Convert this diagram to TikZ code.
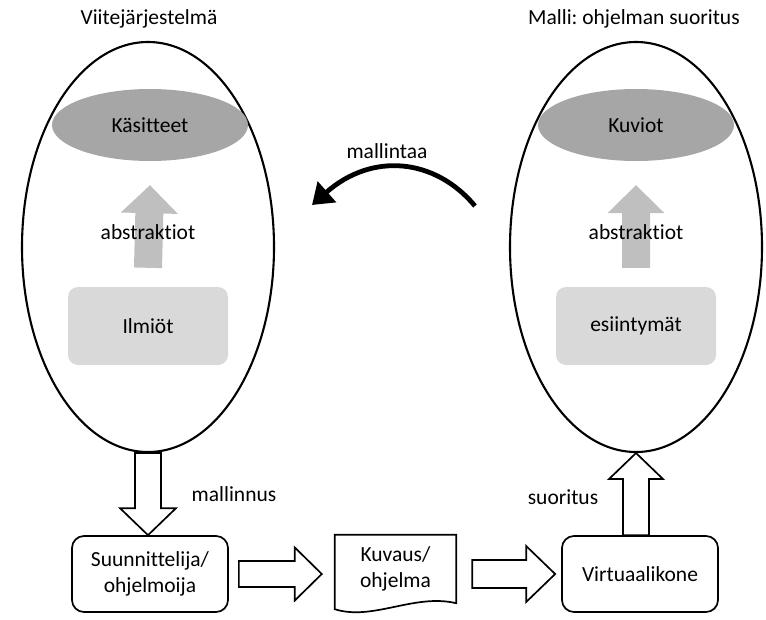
\documentclass[tikz,border=0pt]{standalone}
\usepackage{fontspec}
\setmainfont{Carlito}[Ligatures=NoCommon]
\usetikzlibrary{calc,arrows.meta,shapes.geometric}
\frenchspacing

\definecolor{conceptgray}{RGB}{166,166,166}
\definecolor{liftgray}{RGB}{191,191,191}
\definecolor{boxgray}{RGB}{217,217,217}

\begin{document}
\begin{tikzpicture}[x=1pt,y=-1pt,
  font=\fontsize{21.5}{26}\selectfont,
  world/.style={draw, ellipse, line width=2.1pt, minimum width=252, minimum height=410, inner sep=0pt},
  concept/.style={ellipse, fill=conceptgray, minimum width=196, minimum height=72, inner sep=0pt},
  instbox/.style={rectangle, rounded corners=10pt, fill=boxgray, minimum width=160, minimum height=78},
  actor/.style={draw, rectangle, rounded corners=12pt, line width=1.7pt, minimum width=156, minimum height=76, align=center},
  docbody/.style={rectangle, minimum width=121, minimum height=68, align=center},
  label/.style={inner sep=0pt},
  % block arrow between two points: #1 shaft half width, #2 head half width, #3 head length
  blockarrow/.style n args={3}{to path={
    let \p1=(\tikztostart), \p2=(\tikztotarget),
        \n1={veclen(\x2-\x1,\y2-\y1)},
        \n2={(\x2-\x1)/\n1}, \n3={(\y2-\y1)/\n1},
        \n4={\n1-#3}
    in ({\x1-(#1)*\n3},{\y1+(#1)*\n2})
    -- ({\x1+\n4*\n2-(#1)*\n3},{\y1+\n4*\n3+(#1)*\n2})
    -- ({\x1+\n4*\n2-(#2)*\n3},{\y1+\n4*\n3+(#2)*\n2})
    -- (\p2)
    -- ({\x1+\n4*\n2+(#2)*\n3},{\y1+\n4*\n3-(#2)*\n2})
    -- ({\x1+\n4*\n2+(#1)*\n3},{\y1+\n4*\n3-(#1)*\n2})
    -- ({\x1+(#1)*\n3},{\y1-(#1)*\n2})
    -- cycle}},
  flowarrow/.style={draw, fill=white, line width=1.7pt, line join=miter},
  liftarrow/.style={fill=liftgray, blockarrow={14}{28.5}{28}},
  bendarrow/.style={line width=4.8pt, -{Triangle[length=20pt,width=27pt]}}
]
\useasboundingbox (0,0) rectangle (766,619);

% the two frames and their titles
\node[world] (ref) at (148,247) {};
\node[world] (model) at (636,247) {};
\node[label] (reftitle) at (149,19) {Viitejärjestelmä};
\node[label] (modeltitle) at (634,19) {Malli: ohjelman suoritus};

% contents of the frames
\node[concept] (kasitteet) at (150,125) {Käsitteet};
\node[concept] (kuviot) at (636,125) {Kuviot};
\node[instbox] (ilmiot) at (148,326) {Ilmiöt};
\node[instbox] (esiintymat) at (636,326) {esiintymät};

\path[liftarrow] ([yshift=19pt]ilmiot.north) to ([yshift=-24pt]kasitteet.south);
\path[liftarrow] ([yshift=19pt]esiintymat.north) to ([yshift=-24pt]kuviot.south);
\node[label] (abs1) at (148,232) {abstraktiot};
\node[label] (abs2) at (636,232) {abstraktiot};

% bottom row
\node[actor] (suunnittelija) at (150,574) {Suunnittelija/\\ohjelmoija};
\node[docbody] (kuvaus) at (395.5,569) {Kuvaus/\\ohjelma};
\node[actor] (vk) at (640,574) {Virtuaalikone};

\draw[line width=1.7pt, line join=miter]
  (kuvaus.south west) -- (kuvaus.north west) -- (kuvaus.north east) -- (kuvaus.south east)
  .. controls ($(kuvaus.south east)+(-42,-10)$) and ($(kuvaus.south west)+(38,18)$) .. ($(kuvaus.south west)+(0,6)$)
  -- cycle;

% block arrows between the parts
\path[flowarrow, blockarrow={13}{28}{27}] (ref.south) to (ref.south |- suunnittelija.north);
\path[flowarrow, blockarrow={13}{26.5}{27}] ([xshift=10pt]suunnittelija.east) to ([xshift=-13pt]kuvaus.west |- suunnittelija.east);
\path[flowarrow, blockarrow={14}{28}{29}] ([xshift=16pt]kuvaus.east |- vk.west) to ([xshift=-6pt]vk.west);
\path[flowarrow, blockarrow={13}{27}{26}] (vk.north -| model.south) to (model.south);

\node[label] (mallinnus) at (234,494) {mallinnus};
\node[label] (suoritus) at (563,497) {suoritus};

% curved arrow from the model back to the reference system
\coordinate (bendstart) at (475,206);
\coordinate (bendend) at (312,205);
\draw[bendarrow] (bendstart) .. controls (435,158) and (372,152) .. (bendend);
\node[label] (mallintaa) at (387,151) {mallintaa};
\end{tikzpicture}
\end{document}
